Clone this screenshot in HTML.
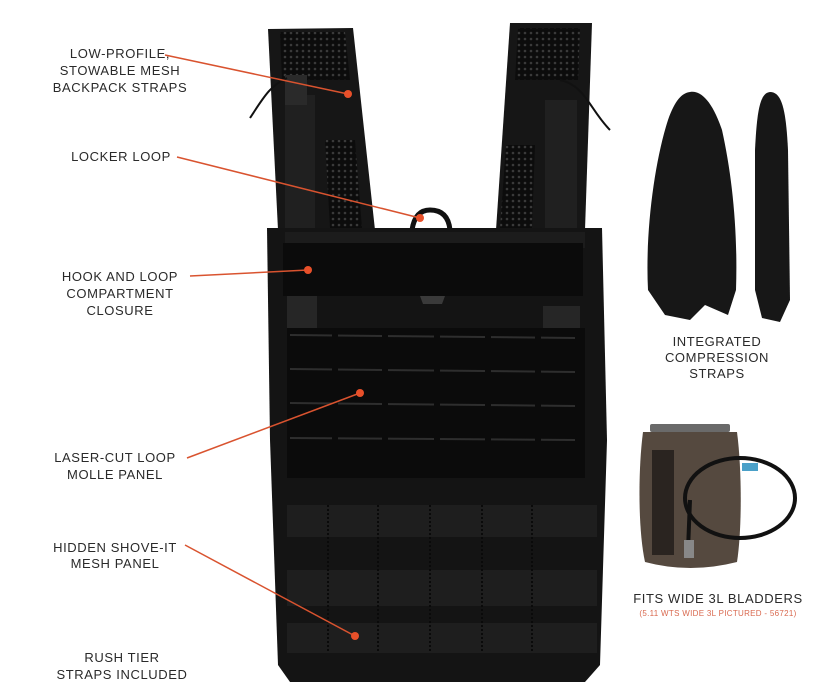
<!DOCTYPE html>
<html><head><meta charset="utf-8"><style>
html,body{margin:0;padding:0;background:#fff;}
svg{display:block}
text{font-family:"Liberation Sans",sans-serif;font-size:13px;fill:#2a2a2a;letter-spacing:0.6px;text-anchor:middle}
</style></head><body>
<svg width="836" height="689" viewBox="0 0 836 689" xmlns="http://www.w3.org/2000/svg">
<defs>
<pattern id="mesh" width="6" height="6" patternUnits="userSpaceOnUse">
<rect width="6" height="6" fill="#0c0c0c"/><circle cx="3" cy="3" r="1.3" fill="#3a3a3a"/>
</pattern>
</defs>
<polygon points="268,29 353,28 375,230 278,230" fill="#161616"/>
<polygon points="280,32 345,32 350,80 282,80" fill="url(#mesh)"/>
<polygon points="325,140 355,140 362,228 330,228" fill="url(#mesh)"/>
<rect x="285" y="95" width="30" height="135" fill="#202020"/>
<rect x="285" y="75" width="22" height="30" fill="#2a2a2a"/>
<polygon points="510,23 592,23 585,230 496,230" fill="#161616"/>
<polygon points="518,28 580,28 578,80 515,80" fill="url(#mesh)"/>
<polygon points="506,145 535,145 532,228 500,228" fill="url(#mesh)"/>
<rect x="545" y="100" width="32" height="130" fill="#202020"/>
<path d="M287,78 C270,85 262,100 250,118" stroke="#111" stroke-width="2" fill="none"/>
<path d="M560,80 C585,85 590,110 610,130" stroke="#111" stroke-width="2" fill="none"/>
<path d="M412,230 Q415,210 430,210 Q448,210 450,230" stroke="#111" stroke-width="5" fill="none"/>
<polygon points="267,228 602,228 607,440 600,665 585,682 290,682 278,665 270,440" fill="#141414"/>
<rect x="285" y="232" width="300" height="16" fill="#1c1c1c"/>
<rect x="283" y="243" width="300" height="53" fill="#0b0b0b"/>
<polygon points="420,296 445,296 442,304 423,304" fill="#3a3a3a"/>
<rect x="287" y="296" width="30" height="34" fill="#262626"/>
<rect x="543" y="306" width="37" height="34" fill="#262626"/>
<rect x="287" y="328" width="298" height="150" fill="#0b0b0b"/>
<g stroke="#2e2e2e" stroke-width="2">
<line x1="290" y1="335" x2="575" y2="338"/><line x1="290" y1="369" x2="575" y2="372"/>
<line x1="290" y1="403" x2="575" y2="406"/><line x1="290" y1="438" x2="575" y2="440"/>
</g>
<g stroke="#0b0b0b" stroke-width="6">
<line x1="335" y1="330" x2="335" y2="478"/><line x1="385" y1="330" x2="385" y2="478"/>
<line x1="437" y1="330" x2="437" y2="478"/><line x1="488" y1="330" x2="488" y2="478"/>
<line x1="538" y1="330" x2="538" y2="478"/>
</g>
<rect x="287" y="505" width="310" height="32" fill="#1e1e1e"/>
<rect x="287" y="570" width="310" height="36" fill="#1e1e1e"/>
<rect x="287" y="623" width="310" height="30" fill="#1e1e1e"/>
<g stroke="#0a0a0a" stroke-width="2" stroke-dasharray="2,2">
<line x1="328" y1="505" x2="328" y2="653"/><line x1="378" y1="505" x2="378" y2="653"/>
<line x1="430" y1="505" x2="430" y2="653"/><line x1="482" y1="505" x2="482" y2="653"/>
<line x1="532" y1="505" x2="532" y2="653"/>
</g>
<path d="M690,92 C700,90 712,100 722,130 C732,175 738,230 736,290 L728,315 L705,305 L690,320 L665,315 L648,290 C645,230 655,160 668,120 C675,100 682,93 690,92 Z" fill="#171717"/>
<path d="M770,92 C782,92 786,110 788,150 L790,300 L780,322 L762,318 L755,290 L755,150 C757,110 760,93 770,92 Z" fill="#171717"/>
<rect x="650" y="424" width="80" height="8" rx="2" fill="#6a6a6a"/>
<path d="M643,432 L737,432 C742,470 742,530 737,562 Q690,574 645,562 C638,530 638,470 643,432 Z" fill="#55493f"/>
<rect x="652" y="450" width="22" height="105" fill="#2a2420"/>
<ellipse cx="740" cy="498" rx="55" ry="40" stroke="#111" stroke-width="4" fill="none"/>
<path d="M690,500 L688,550" stroke="#111" stroke-width="4"/>
<rect x="684" y="540" width="10" height="18" fill="#888"/>
<rect x="742" y="463" width="16" height="8" fill="#4aa0c8"/>
<text x="120" y="58">LOW-PROFILE,</text>
<text x="120" y="75">STOWABLE MESH</text>
<text x="120" y="92">BACKPACK STRAPS</text>
<text x="121" y="161">LOCKER LOOP</text>
<text x="120" y="281">HOOK AND LOOP</text>
<text x="120" y="298">COMPARTMENT</text>
<text x="120" y="315">CLOSURE</text>
<text x="115" y="462">LASER-CUT LOOP</text>
<text x="115" y="479">MOLLE PANEL</text>
<text x="115" y="552">HIDDEN SHOVE-IT</text>
<text x="115" y="568">MESH PANEL</text>
<text x="122" y="662">RUSH TIER</text>
<text x="122" y="679">STRAPS INCLUDED</text>
<text x="717" y="346">INTEGRATED</text>
<text x="717" y="362">COMPRESSION</text>
<text x="717" y="378">STRAPS</text>
<text x="718" y="603">FITS WIDE 3L BLADDERS</text>
<text x="718" y="616" style="font-size:8px;fill:#d9694f;letter-spacing:0.3px">(5.11 WTS WIDE 3L PICTURED - 56721)</text>
<g stroke="#d9532f" stroke-width="1.5" fill="#e8502a">
<line x1="165" y1="55" x2="348" y2="94"/><circle cx="348" cy="94" r="4" stroke="none"/>
<line x1="177" y1="157" x2="420" y2="218"/><circle cx="420" cy="218" r="4" stroke="none"/>
<line x1="190" y1="276" x2="308" y2="270"/><circle cx="308" cy="270" r="4" stroke="none"/>
<line x1="187" y1="458" x2="360" y2="393"/><circle cx="360" cy="393" r="4" stroke="none"/>
<line x1="185" y1="545" x2="355" y2="636"/><circle cx="355" cy="636" r="4" stroke="none"/>
</g>
</svg>
</body></html>
